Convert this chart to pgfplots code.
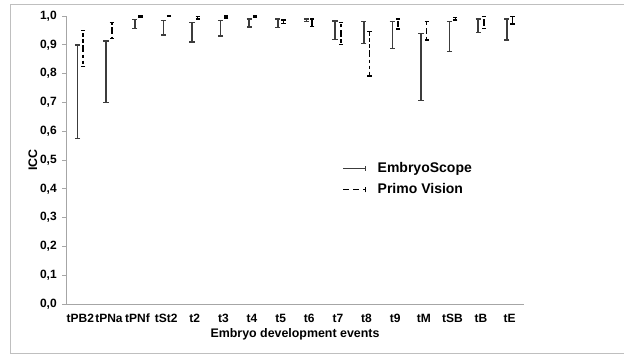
\documentclass[border=0pt]{standalone}
\usepackage{pgfplots}
\pgfplotsset{compat=1.18}
\usepackage{pgfplotstable}
\usepackage{fontspec}
\setmainfont{Liberation Sans}
\definecolor{esgray}{RGB}{60,60,60}
\definecolor{framegray}{RGB}{191,191,191}
\definecolor{axgray}{RGB}{166,166,166}

% EmbryoScope: x position, lower and upper ICC bound
\pgfplotstableread{
x lo hi
-0.1 0.575 0.900
0.9 0.699 0.914
1.9 0.957 0.988
2.9 0.934 0.984
3.9 0.909 0.978
4.9 0.931 0.984
5.9 0.961 0.990
6.9 0.960 0.990
7.9 0.981 0.990
8.9 0.919 0.983
9.9 0.905 0.980
10.9 0.888 0.980
11.9 0.706 0.940
12.9 0.876 0.980
13.9 0.943 0.990
14.9 0.917 0.990
}\es

% Primo Vision
\pgfplotstableread{
x lo hi
0.1 0.824 0.949
1.1 0.921 0.977
2.1 0.997 1.000
3.1 0.998 1.000
4.1 0.990 0.999
5.1 0.993 1.000
6.1 0.997 1.000
7.1 0.975 0.986
8.1 0.963 0.990
9.1 0.902 0.977
10.1 0.792 0.946
11.1 0.955 0.990
12.1 0.917 0.980
13.1 0.986 0.995
14.1 0.957 0.998
15.1 0.972 0.998
}\pv

\begin{document}
\begin{tikzpicture}[font=\fontsize{9}{10.8}\selectfont\bfseries]
\useasboundingbox (0,0) rectangle (468pt,265.5pt);
\draw[framegray, line width=0.75pt] (472pt,262.1pt) -- (7.5pt,262.1pt) -- (7.5pt,0.5pt) -- (472pt,0.5pt);
\begin{axis}[
  at={(49.5pt,37.5pt)}, anchor=south west,
  scale only axis, width=343.5pt, height=216pt,
  xmin=-0.5, xmax=15.5, ymin=0, ymax=1,
  axis x line*=bottom, axis y line*=left,
  axis line style={axgray, line width=0.75pt, -},
  xtick={0,1,2,3,4,5,6,7,8,9,10,11,12,13,14,15},
  xticklabels={tPB2,tPNa,tPNf,tSt2,t2,t3,t4,t5,t6,t7,t8,t9,tM,tSB,tB,tE},
  x tick style={draw=none},
  ytick={0,0.1,0.2,0.3,0.4,0.5,0.6,0.7,0.8,0.9,1},
  tick align=inside, major tick length=3pt,
  y tick style={axgray, line width=0.75pt, xshift=-3pt},
  /pgf/number format/use comma,
  /pgf/number format/fixed,
  /pgf/number format/fixed zerofill,
  /pgf/number format/precision=1,
  /pgf/number format/assume math mode=true,
  tick label style={font=\fontsize{9}{10.8}\selectfont\bfseries},
  yticklabel style={inner sep=0pt, anchor=east, xshift=-6.75pt},
  xticklabel style={inner sep=0pt, anchor=base, yshift=-13.5pt},
  xlabel={Embryo development events},
  ylabel={ICC},
  label style={font=\fontsize{9.3}{11}\selectfont\bfseries},
  xlabel style={at={(axis description cs:0.5,-0.118)}, anchor=base, inner sep=0pt},
  ylabel style={at={(axis description cs:-0.0633,0.5)}, anchor=base, inner sep=0pt},
  legend style={at={(0.595,0.434)}, anchor=west, draw=none, fill=none,
    font=\fontsize{10.5}{12}\selectfont\bfseries, row sep=3pt},
  legend cell align=left,
  clip=false,
]
\addplot[draw=none, no markers, forget plot,
  error bars/.cd, y dir=both, y explicit,
  error bar style={esgray, line width=1.2pt, solid},
  error mark options={esgray, rotate=90, mark size=2pt, line width=1.1pt, solid}]
  table[x=x, y expr=(\thisrow{lo}+\thisrow{hi})/2, y error expr=(\thisrow{hi}-\thisrow{lo})/2] {\es};
\addplot[draw=none, no markers, forget plot,
  error bars/.cd, y dir=both, y explicit,
  error bar style={black, line width=1.05pt, dash pattern=on 2.5pt off 2pt},
  error mark options={black, rotate=90, mark size=1.6pt, line width=1pt, solid}]
  table[x=x, y expr=(\thisrow{lo}+\thisrow{hi})/2, y error expr=(\thisrow{hi}-\thisrow{lo})/2] {\pv};
\addlegendimage{legend image code/.code={
  \draw[esgray, line width=1pt] (0pt,0pt) -- (16.5pt,0pt);
  \draw[esgray, line width=1pt] (16.5pt,-1.9pt) -- (16.5pt,1.9pt);
  \path (23.5pt,0pt);}}
\addlegendentry{EmbryoScope}
\addlegendimage{legend image code/.code={
  \draw[black, line width=1pt, dash pattern=on 4pt off 3.5pt] (0pt,0pt) -- (16.5pt,0pt);
  \draw[black, line width=1pt] (16.5pt,-1.9pt) -- (16.5pt,1.9pt);
  \path (23.5pt,0pt);}}
\addlegendentry{Primo Vision}
\end{axis}
\end{tikzpicture}
\end{document}
